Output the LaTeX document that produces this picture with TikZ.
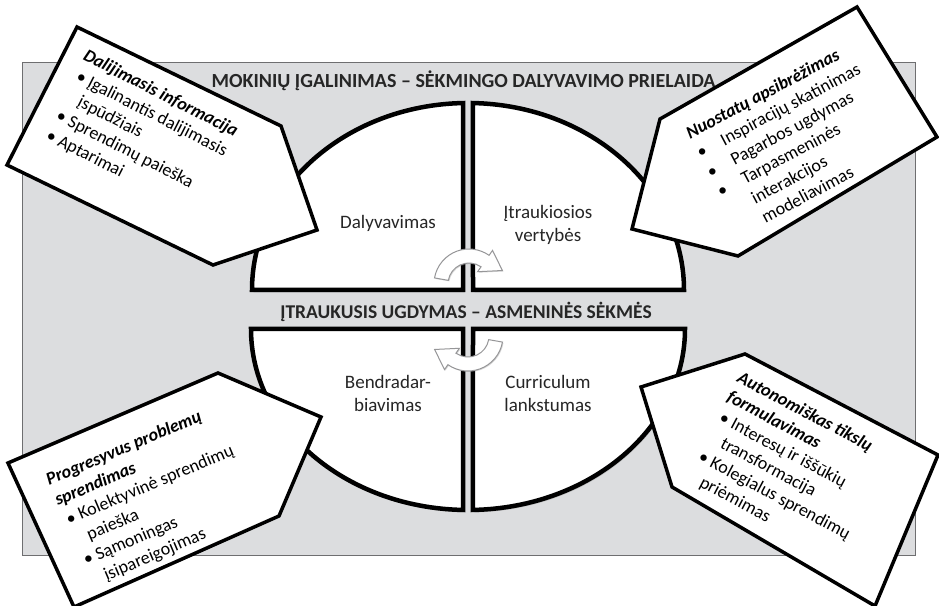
\documentclass[tikz,border=0pt]{standalone}
\usepackage{fontspec}
\setmainfont{Carlito}
\usetikzlibrary{shadows}

\definecolor{panelgray}{RGB}{220,221,223}
\definecolor{edgegray}{RGB}{110,110,112}
\definecolor{turngray}{RGB}{150,150,152}

% callout lines
\newcommand{\taghead}[1]{\textbf{\textit{#1}}}
\newcommand{\tagitem}[1]{\hspace*{3pt}\makebox[13pt][l]{\textbullet}#1}
\newcommand{\tagcont}[1]{\hspace*{16pt}#1}
\newcommand{\tagdot}[1]{\makebox[27pt][l]{\textbullet}#1}
\newcommand{\tagfar}[1]{\hspace*{27pt}#1}

\tikzset{
  quad/.style={draw=black, line width=4.5pt, fill=white,
    drop shadow={shadow xshift=1.5pt, shadow yshift=-2.5pt, opacity=.35}},
  tag/.style={draw=black, line width=3.5pt, fill=white},
  tagtext/.style={inner sep=0pt, anchor=north west, align=left,
    font=\fontsize{18}{22}\selectfont},
  band/.style={inner sep=0pt, text=black!85,
    font=\bfseries\fontsize{19.5}{23}\selectfont},
  quadlabel/.style={align=center, text=black!85,
    font=\fontsize{19}{23}\selectfont},
  turn/.style={fill=white, draw=turngray, line width=1pt,
    drop shadow={shadow xshift=1pt, shadow yshift=-1pt, opacity=.3}}
}

\begin{document}
\begin{tikzpicture}[x=1pt,y=1pt]
\useasboundingbox (0,0) rectangle (939,605);
\fill[white] (0,0) rectangle (939,605);
\draw[fill=panelgray, draw=edgegray, line width=0.8pt] (22,50) rectangle (915,543);

% upper half
\begin{scope}[shift={(468,315)}]
  \draw[quad] (-5,0) -- (91.3:216 and 187)
    arc[start angle=91.3, end angle=180, x radius=216, y radius=187] -- cycle;
  \draw[quad] (5,0) -- (88.7:216 and 187)
    arc[start angle=88.7, end angle=0, x radius=216, y radius=187] -- cycle;
\end{scope}
% lower half
\begin{scope}[shift={(468,276)}]
  \draw[quad] (-5,0) -- (-91.3:217 and 181)
    arc[start angle=-91.3, end angle=-180, x radius=217, y radius=181] -- cycle;
  \draw[quad] (5,0) -- (-88.7:217 and 181)
    arc[start angle=-88.7, end angle=0, x radius=217, y radius=181] -- cycle;
\end{scope}

% turning arrows
\begin{scope}[shift={(469,321)}]
  \draw[turn] (170:35) arc[start angle=170, end angle=55, radius=35]
    -- (55:41) -- (22:36) -- (55:15) -- (55:21)
    arc[start angle=55, end angle=170, radius=21] -- cycle;
\end{scope}
\begin{scope}[shift={(468,269)}]
  \draw[turn] (-10:35) arc[start angle=-10, end angle=-125, radius=35]
    -- (-125:41) -- (-158:36) -- (-125:15) -- (-125:21)
    arc[start angle=-125, end angle=-10, radius=21] -- cycle;
\end{scope}

\node[band, anchor=base, font=\bfseries\fontsize{20}{24}\selectfont] (top) at (463.5,517)
  {MOKINIŲ ĮGALINIMAS – SĖKMINGO DALYVAVIMO PRIELAIDA};
\node[band, anchor=base] (mid) at (466,286)
  {ĮTRAUKUSIS UGDYMAS – ASMENINĖS SĖKMĖS};

\node[quadlabel] (dal) at (388,382) {Dalyvavimas};
\node[quadlabel] (itr) at (548,380) {Įtraukiosios\\vertybės};
\node[quadlabel] (ben) at (388,212) {Bendradar-\\biavimas};
\node[quadlabel] (cur) at (548,212) {Curriculum\\lankstumas};

% callouts
\draw[tag] (77,578) -- (281,479) -- (317,375) -- (213,340) -- (7,440) -- cycle;
\draw[tag] (660,486) -- (857,598) -- (937,468) -- (738,349) -- (632,376) -- cycle;
\draw[tag] (8,142) -- (218,232) -- (321,188) -- (279,89) -- (74,-2) -- cycle;
\draw[tag] (641,218) -- (745,251) -- (938,150) -- (875,-1) -- (672,118) -- cycle;

\node[tagtext, rotate=-27] (share) at (88,557)
  {\taghead{Dalijimasis informacija}\\
   \tagitem{Įgalinantis dalijimasis}\\
   \tagcont{įspūdžiais}\\
   \tagitem{Sprendimų paieška}\\
   \tagitem{Aptarimai}};
\node[tagtext, rotate=28] (attitude) at (684,477)
  {\taghead{Nuostatų apsibrėžimas}\\
   \tagdot{Inspiracijų skatinimas}\\
   \tagdot{Pagarbos ugdymas}\\
   \tagdot{Tarpasmeninės}\\
   \tagfar{interakcijos}\\
   \tagfar{modeliavimas}};
\node[tagtext, rotate=23] (solve) at (44,131)
  {\taghead{Progresyvus problemų}\\
   \taghead{sprendimas}\\
   \tagitem{Kolektyvinė sprendimų}\\
   \tagcont{paieška}\\
   \tagitem{Sąmoningas}\\
   \tagcont{įsipareigojimas}};
\node[tagtext, rotate=-28] (goals) at (742,235)
  {\taghead{Autonomiškas tikslų}\\
   \taghead{formulavimas}\\
   \tagitem{Interesų ir iššūkių}\\
   \tagcont{transformacija}\\
   \tagitem{Kolegialus sprendimų}\\
   \tagcont{priėmimas}};
\end{tikzpicture}
\end{document}
